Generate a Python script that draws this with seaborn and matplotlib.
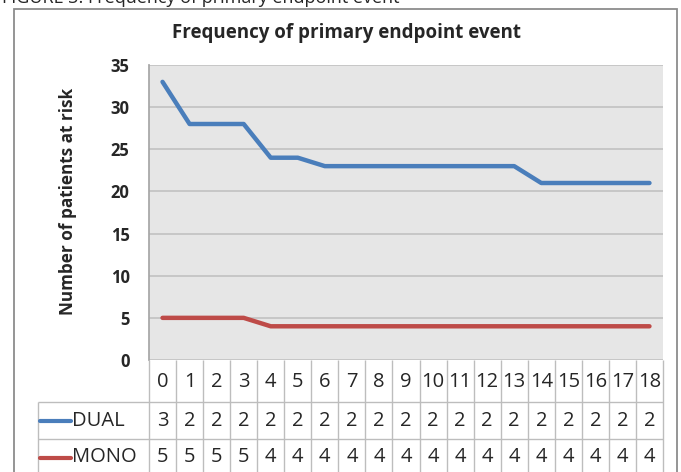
import numpy as np
import pandas as pd
import matplotlib
matplotlib.use("Agg")
import matplotlib.pyplot as plt
import seaborn as sns
from matplotlib.patches import Rectangle

# data
months = list(range(19))
dual = [33, 28, 28, 28, 24, 24, 23, 23, 23, 23, 23, 23, 23, 23, 21, 21, 21, 21, 21]
mono = [5, 5, 5, 5, 4, 4, 4, 4, 4, 4, 4, 4, 4, 4, 4, 4, 4, 4, 4]
series_names = ["DUAL", "MONO"]
series_colors = ["#4a7ebb", "#be4b48"]
y_ticks = [0, 5, 10, 15, 20, 25, 30, 35]

title = "Frequency of primary endpoint event"
caption = "FIGURE 3: Frequency of primary endpoint event"
y_label = "Number of patients at risk"

sns.set_theme(style="white")
plt.rcParams['font.family'] = ['Open Sans', 'DejaVu Sans']

W, H = 681, 472
fig = plt.figure(figsize=(W / 100, H / 100), dpi=100)


def box(x0, y0, x1, y1):
    """pixel box (top-left origin) -> figure fraction rect"""
    return [x0 / W, 1 - y1 / H, (x1 - x0) / W, (y1 - y0) / H]


# plot area
ax = fig.add_axes(box(149, 65, 663, 360))
df = pd.DataFrame({
    "month": months * 2,
    "patients": dual + mono,
    "group": ["DUAL"] * len(dual) + ["MONO"] * len(mono),
})
sns.lineplot(data=df, x="month", y="patients", hue="group",
             palette=dict(zip(series_names, series_colors)),
             lw=3.2, legend=False, ax=ax, zorder=3)
ax.set_xlim(-0.5, 18.5)
ax.set_ylim(0, 35)
ax.set_facecolor("#e6e6e6")
ax.set_yticks(y_ticks)
ax.set_xticks([])
ax.yaxis.grid(True, color="#c4c4c4", lw=1.3)
ax.set_axisbelow(True)
ax.tick_params(axis="y", length=0, pad=14, labelsize=12)
for lbl in ax.get_yticklabels():
    lbl.set_fontweight("bold")
ax.set_xlabel("")
ax.set_ylabel(y_label, fontsize=12.3, fontweight="bold")
ax.yaxis.set_label_coords(-0.140, 0.536)
for s in ["top", "right", "bottom"]:
    ax.spines[s].set_visible(False)
ax.spines["left"].set_color("#a6a6a6")

# data table under the plot
tab = fig.add_axes(box(149, 360, 663, 472))
tab.set_xlim(-0.5, 18.5)
tab.set_ylim(472, 360)
tab.axis("off")
cell = (663 - 149) / len(months)
left_edge = -0.5 + (38 - 149) / cell
grid_c = "#bdbdbd"
fs_tab = 14.5

tab.vlines(np.arange(len(months) + 1) - 0.5, 360, 480, color=grid_c, lw=1, clip_on=False)
tab.vlines([left_edge], 402, 480, color=grid_c, lw=1, clip_on=False)
tab.hlines([402, 439], left_edge, 18.5, color=grid_c, lw=1, clip_on=False)

for m in months:
    tab.text(m, 382, str(m), ha="center", va="center", fontsize=fs_tab, clip_on=False)

rows_y = [420.5, 457.5]
for vals, name, color, ry in zip([dual, mono], series_names, series_colors, rows_y):
    for m, v in zip(months, vals):
        # the cells in the reference are too narrow and show only the first digit
        tab.text(m, ry, str(v)[0], ha="center", va="center", fontsize=fs_tab, clip_on=False)
    key_x0 = -0.5 + (40 - 149) / cell
    key_x1 = -0.5 + (71 - 149) / cell
    tab.plot([key_x0, key_x1], [ry, ry], color=color, lw=3, clip_on=False,
             solid_capstyle="round")
    tab.text(key_x1 + 0.03, ry, name, ha="left", va="center", fontsize=fs_tab, clip_on=False)

# titles and frame
fig.text(347 / W, 1 - 33 / H, title, ha="center", va="center",
         fontsize=13.5, fontweight="bold")
fig.text(2 / W, 1 - 3 / H, caption, ha="left", va="baseline", fontsize=13)
fig.add_artist(Rectangle((14 / W, -0.1), (677 - 14) / W, 1 - 9 / H + 0.1,
                         transform=fig.transFigure, fill=False,
                         edgecolor="#8c8c8c", lw=1.3))

fig.savefig("out.png", dpi=100)
